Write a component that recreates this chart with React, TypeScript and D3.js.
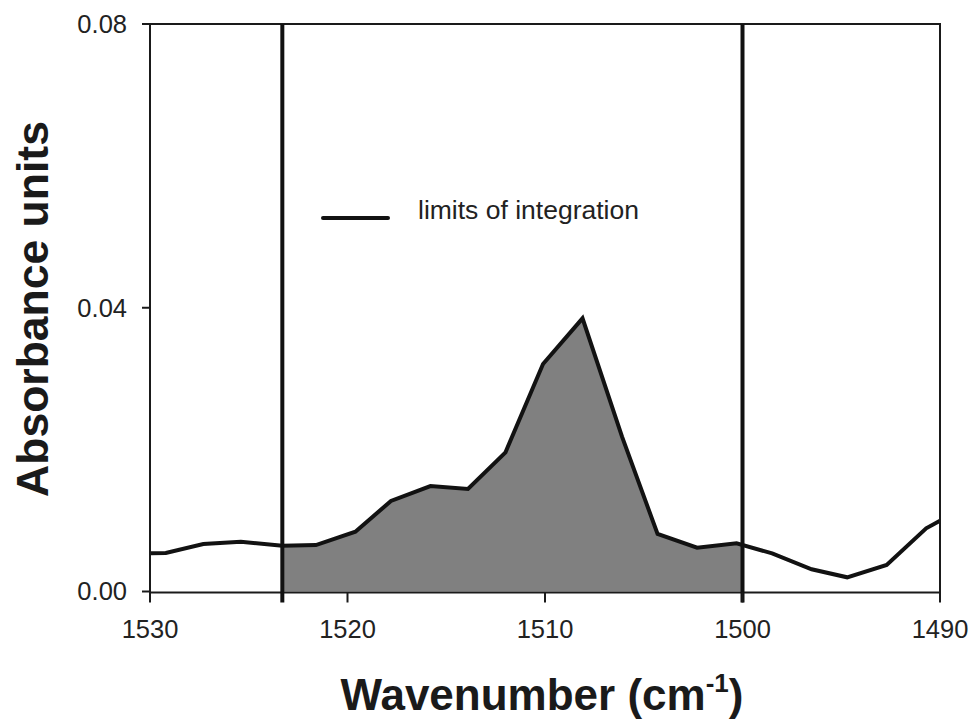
import React from "react";
import * as d3 from "d3";

const wavenumbers = [1530.0, 1529.2, 1527.3, 1525.4, 1523.3, 1521.6, 1519.6, 1517.8, 1515.8, 1513.9, 1512.0, 1510.1, 1508.1, 1506.1, 1504.3, 1502.3, 1500.3, 1498.5, 1496.5, 1494.7, 1492.7, 1490.7, 1490.0];
const absorbance = [0.00538, 0.00543, 0.0067, 0.00702, 0.00646, 0.00655, 0.00843, 0.01276, 0.01487, 0.01445, 0.01962, 0.03207, 0.03851, 0.02182, 0.00811, 0.00617, 0.00679, 0.00538, 0.00313, 0.002, 0.00374, 0.00891, 0.00998];
const xTicks = [1530, 1520, 1510, 1500, 1490];
const yTicks = [0.0, 0.04, 0.08];
const integrationLimits = [1523.3, 1500];
const legendLabel = "limits of integration";

const W = 974;
const H = 722;
const left = 150, right = 940, top = 24, bottom = 591.5;

export default function App() {
  const x = d3.scaleLinear().domain([1530, 1490]).range([left, right]);
  const y = d3.scaleLinear().domain([0, 0.08]).range([bottom, top]);

  const pts = wavenumbers.map((w, i) => ({ w, a: absorbance[i] }));

  const interp = (w: number) => {
    for (let i = 0; i < pts.length - 1; i++) {
      const p = pts[i], q = pts[i + 1];
      if ((p.w >= w && q.w <= w)) {
        const t = (p.w - w) / (p.w - q.w || 1);
        return p.a + t * (q.a - p.a);
      }
    }
    return 0;
  };

  const [lo, hi] = [Math.min(...integrationLimits), Math.max(...integrationLimits)];
  const areaPts = [
    { w: hi, a: interp(hi) },
    ...pts.filter((p) => p.w < hi && p.w > lo),
    { w: lo, a: interp(lo) },
  ];

  const line = d3.line<{ w: number; a: number }>().x((d) => x(d.w)).y((d) => y(d.a));
  const area = d3
    .area<{ w: number; a: number }>()
    .x((d) => x(d.w))
    .y0(y(0))
    .y1((d) => y(d.a));

  const axisColor = "#1a1a1a";
  const font = "Liberation Sans, Arial, Helvetica, sans-serif";

  return (
    <svg
      width={W}
      height={H}
      style={{ position: "absolute", left: 0, top: 0, background: "#fff" }}
      fontFamily={font}
    >
      <defs>
        <clipPath id="plotclip">
          <rect x={left} y={top} width={right - left} height={bottom - top + 2} />
        </clipPath>
      </defs>
      <path d={area(areaPts) || ""} fill="#808080" />
      <path
        d={line(pts) || ""}
        fill="none"
        stroke="#121212"
        strokeWidth={4}
        strokeLinejoin="miter"
        clipPath="url(#plotclip)"
      />
      {/* frame */}
      <rect x={left} y={top} width={right - left} height={bottom - top + 1} fill="none" stroke={axisColor} strokeWidth={2} />
      {/* integration limits */}
      {integrationLimits.map((w) => (
        <line key={w} x1={x(w)} x2={x(w)} y1={top} y2={bottom + 11} stroke="#111" strokeWidth={4} />
      ))}
      {/* y ticks */}
      {yTicks.map((t) => (
        <g key={t}>
          <line x1={left - 8} x2={left} y1={y(t)} y2={y(t)} stroke={axisColor} strokeWidth={2} />
          <text x={127} y={y(t)} dy="0.35em" textAnchor="end" fontSize={25.5} fill="#222">
            {d3.format(".2f")(t)}
          </text>
        </g>
      ))}
      {/* x ticks */}
      {xTicks.map((t) => (
        <g key={t}>
          <line x1={x(t)} x2={x(t)} y1={bottom + 1} y2={bottom + 11} stroke={axisColor} strokeWidth={2} />
          <text x={x(t)} y={638} textAnchor="middle" fontSize={25.5} fill="#222">
            {t}
          </text>
        </g>
      ))}
      {/* legend */}
      <line x1={323} x2={388} y1={218} y2={218} stroke="#121212" strokeWidth={4} strokeLinecap="round" />
      <text x={418} y={219} fontSize={26.5} fill="#222">
        {legendLabel}
      </text>
      {/* axis titles */}
      <text x={542} y={710} textAnchor="middle" fontSize={44} fontWeight="bold" fill="#1a1a1a">
        Wavenumber (cm
        <tspan fontSize={26} dy={-18}>-1</tspan>
        <tspan dy={18}>)</tspan>
      </text>
      <text
        transform={`translate(48, 309) rotate(-90)`}
        textAnchor="middle"
        fontSize={44.5}
        fontWeight="bold"
        fill="#1a1a1a"
      >
        Absorbance units
      </text>
    </svg>
  );
}
